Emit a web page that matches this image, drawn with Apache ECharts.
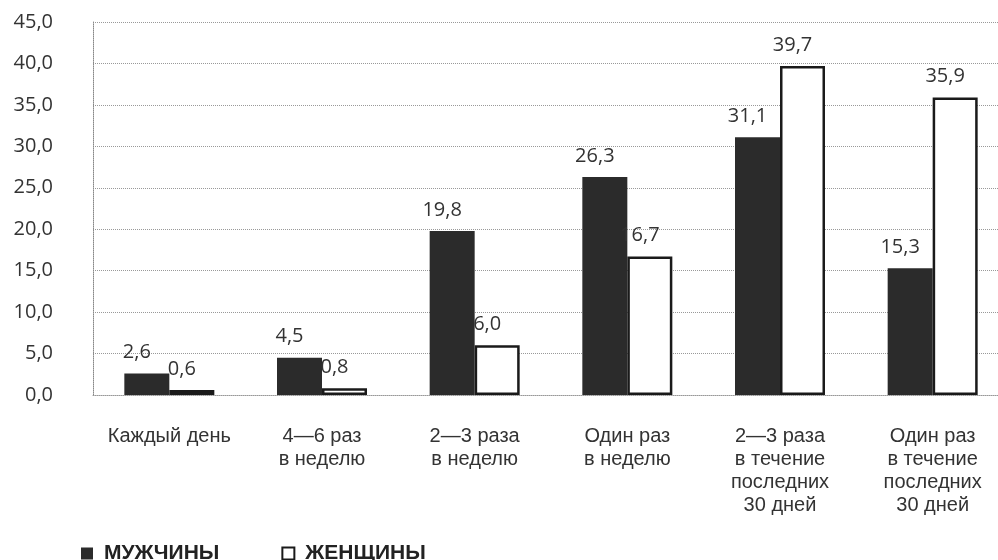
<!DOCTYPE html>
<html>
<head>
<meta charset="utf-8">
<script src="https://cdn.jsdelivr.net/npm/echarts@6/dist/echarts.min.js"></script>
<style>
  html, body { margin: 0; padding: 0; background: #fff; overflow: hidden; }
  #main { width: 1012px; height: 560px; }
</style>
</head>
<body>
<div id="main"></div>
<script>
// categories and values
const categories = [
    'Каждый день',
    '4—6 раз\nв неделю',
    '2—3 раза\nв неделю',
    'Один раз\nв неделю',
    '2—3 раза\nв течение\nпоследних\n30 дней',
    'Один раз\nв течение\nпоследних\n30 дней'
]
const men = [2.6, 4.5, 19.8, 26.3, 31.1, 15.3]
const women = [0.6, 0.8, 6.0, 16.7, 39.7, 35.9]
const yTicks = [0, 5, 10, 15, 20, 25, 30, 35, 40, 45]

const comma = v => Number(v).toFixed(1).replace('.', ',')

const valueLabel = {
    show: true,
    position: 'top',
    fontSize: 20,
    color: '#333',
    fontFamily: 'Open Sans',
    distance: 11,
    offset: [-10, 0],
    formatter: p => comma(p.value)
}

const myChart = echarts.init(document.getElementById('main'))
myChart.setOption({
    backgroundColor: '#fff',
    textStyle: { fontFamily: 'Liberation Sans' },
    legend: {
        left: 76,
        top: 538,
        itemWidth: 12,
        itemHeight: 12,
        itemGap: 62,
        icon: 'rect',
        textStyle: { fontSize: 21, fontWeight: 'bold', color: '#222', padding: [0, 0, 0, 6] },
        data: ['МУЖЧИНЫ', 'ЖЕНЩИНЫ']
    },
    grid: {
        left: 93,
        top: 22,
        width: 916,
        height: 373
    },
    xAxis: {
        type: 'category',
        data: categories,
        axisTick: { show: false },
        axisLine: { lineStyle: { color: '#999', type: 'dotted' } },
        axisLabel: {
            margin: 30,
            fontSize: 20,
            lineHeight: 23,
            color: '#333',
            interval: 0
        }
    },
    yAxis: {
        type: 'value',
        min: yTicks[0],
        max: yTicks[yTicks.length - 1],
        interval: 5,
        axisLine: { show: true, lineStyle: { color: '#888', type: 'dotted' } },
        axisTick: { show: false },
        splitLine: { lineStyle: { color: '#999', type: 'dotted' } },
        axisLabel: {
            margin: 40,
            fontSize: 20,
            color: '#333',
            fontFamily: 'Open Sans',
            formatter: comma
        }
    },
    series: [
        {
            name: 'МУЖЧИНЫ',
            type: 'bar',
            data: men,
            barWidth: 45,
            barGap: '0%',
            itemStyle: { color: '#2b2b2b' },
            label: valueLabel
        },
        {
            name: 'ЖЕНЩИНЫ',
            type: 'bar',
            data: women,
            barWidth: 45,
            itemStyle: { color: '#fff', borderColor: '#1a1a1a', borderWidth: 2.5 },
            label: valueLabel
        }
    ]
})
</script>
</body>
</html>
